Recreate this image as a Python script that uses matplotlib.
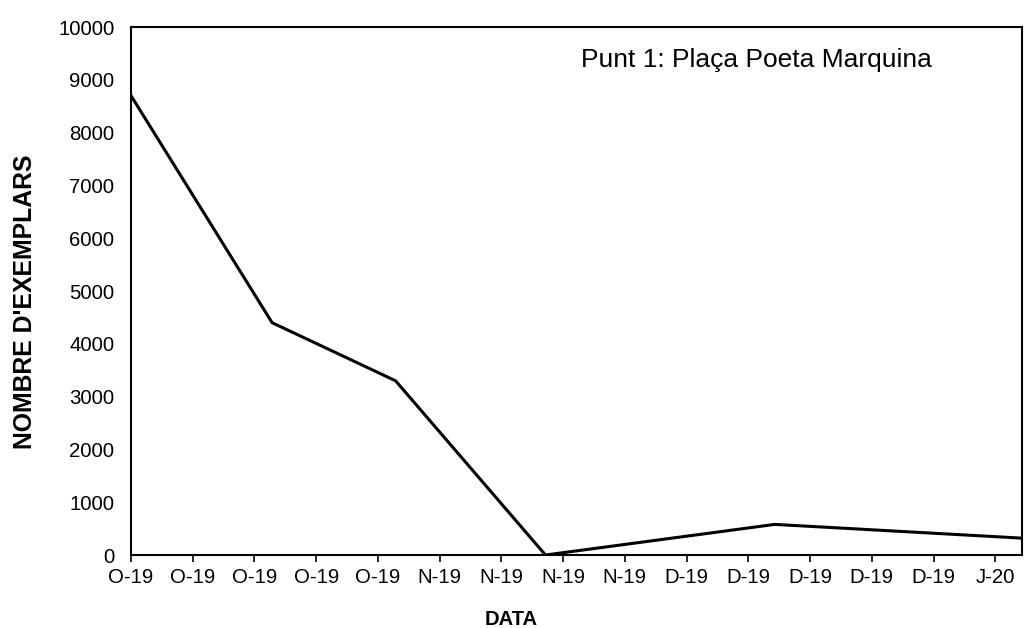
#!/usr/bin/env python3
"""Punt 1: Plaça Poeta Marquina - nombre d'exemplars per data."""

from datetime import datetime, timedelta

import matplotlib
matplotlib.use('Agg')
import matplotlib.pyplot as plt

# Sampling dates and counts
dates = ['2019-10-01', '2019-10-17', '2019-10-31', '2019-11-17', '2019-12-13', '2020-01-10']
exemplars = [8700, 4400, 3300, 0, 580, 320]

# Weekly date ticks starting on the first sample (Excel style labels, e.g. O-19)
tick_start = '2019-10-01'
n_ticks = 15
month_letters = {1: 'J', 10: 'O', 11: 'N', 12: 'D'}

plt.rcParams['font.family'] = ['Liberation Sans', 'DejaVu Sans']

x = [datetime.strptime(d, '%Y-%m-%d') for d in dates]
t0 = datetime.strptime(tick_start, '%Y-%m-%d')
ticks = [t0 + timedelta(days=7 * i) for i in range(n_ticks)]
tick_labels = [f"{month_letters[t.month]}-{t.strftime('%y')}" for t in ticks]

fig = plt.figure(figsize=(10.25, 6.28), dpi=100)
ax = fig.add_axes([0.1278, 0.1162, 0.8690, 0.8408])

ax.plot(x, exemplars, color='black', linewidth=2.2, solid_capstyle='butt')

ax.set_xlim(x[0], x[-1])
ax.set_ylim(0, 10000)
ax.set_yticks(range(0, 10001, 1000))
ax.set_xticks(ticks)
ax.set_xticklabels(tick_labels)

ax.tick_params(axis='y', length=0, pad=12, labelsize=14.7)
ax.tick_params(axis='x', length=5, width=1.2, direction='out', pad=4, labelsize=14.7)
for s in ax.spines.values():
    s.set_linewidth(1.5)

ax.set_ylabel("NOMBRE D'EXEMPLARS", fontsize=17.8, fontweight='bold')
ax.yaxis.set_label_coords(-0.106, 0.48)
ax.set_xlabel('DATA', fontsize=14.5, fontweight='bold')
ax.xaxis.set_label_coords(0.4266, -0.104)

ax.text(0.899, 0.9375, 'Punt 1: Plaça Poeta Marquina', transform=ax.transAxes,
        ha='right', va='center', fontsize=19)

fig.savefig('out.png', dpi=100)
plt.close(fig)
